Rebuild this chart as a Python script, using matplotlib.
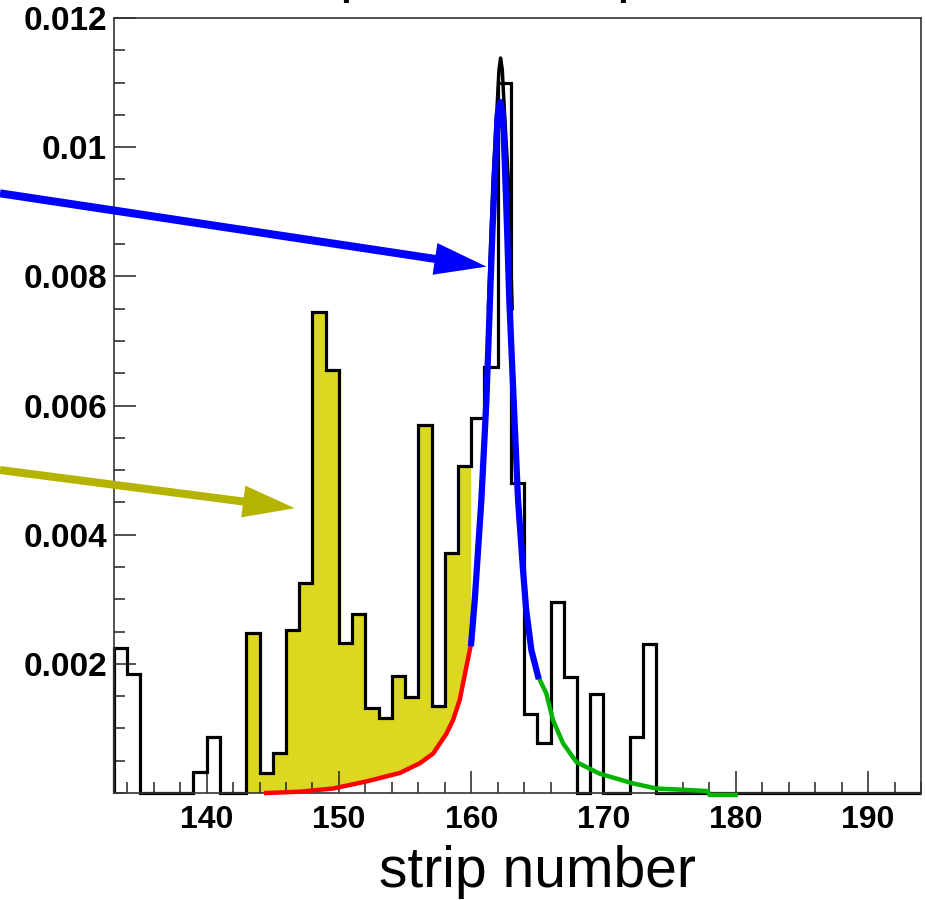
import numpy as np
import matplotlib
matplotlib.use('Agg')
import matplotlib.pyplot as plt
from matplotlib.patches import FancyArrow
from matplotlib.transforms import IdentityTransform
from matplotlib.ticker import MultipleLocator

plt.rcParams['font.family'] = ['Liberation Sans', 'DejaVu Sans']

# histogram: one value per strip, strips 133 .. 193
edges = np.arange(133, 195)
counts = [0.00224, 0.00185, 0, 0, 0, 0, 0.00032, 0.00086, 0, 0,
          0.00247, 0.00031, 0.00062, 0.00252, 0.00325, 0.00745, 0.00655, 0.00232, 0.00277, 0.00131,
          0.00116, 0.00181, 0.00148, 0.0057, 0.00134, 0.00372, 0.00507, 0.0058, 0.0066, 0.01099,
          0.0048, 0.00123, 0.00077, 0.00296, 0.0018, 0, 0.00153, 0, 0, 0.00087,
          0.0023] + [0] * 20
fill_first, fill_last = 143, 159   # strips shaded in yellow

# fit curve pieces
red_x = [144.5, 147.05, 149.57, 152.09, 154.6, 156.11, 157.12, 158.13, 158.63, 159.13, 159.64, 160.0]
red_y = [0.0, 0.00002, 0.00007, 0.00018, 0.00031, 0.00046, 0.00061, 0.00092, 0.00113, 0.00144, 0.00196, 0.00232]

blue_x = [160.0, 160.27, 160.77, 161.15, 161.42, 161.6, 161.82, 162.0, 162.2,
          162.4, 162.55, 162.72, 162.88, 163.21, 163.54, 163.9, 164.15, 164.55, 165.05]
blue_y = [0.00232, 0.00299, 0.00454, 0.00608, 0.00763, 0.00867, 0.0097, 0.0105, 0.0107,
          0.0105, 0.0097, 0.00867, 0.00763, 0.00608, 0.00454, 0.0035, 0.00285, 0.00221, 0.00181]

green_x = [165.05, 165.68, 166.18, 166.94, 167.95, 169.7, 172.2, 174.0, 176.0, 177.9, 178.0, 180.0]
green_y = [0.00181, 0.00154, 0.00113, 0.00077, 0.00048, 0.0003, 0.00015, 0.00007, 0.00005, 0.00003, -0.00003, -0.00003]

black_x = [161.3, 161.65, 161.95, 162.1, 162.22, 162.35, 162.5, 162.8, 163.1]
black_y = [0.0075, 0.0095, 0.0106, 0.0112, 0.01138, 0.0112, 0.0106, 0.0095, 0.0075]

# arrow tips (data coords)
blue_tip = (161.15, 0.00815)
olive_tip = (146.67, 0.00441)

fig = plt.figure(figsize=(9.25, 9.0), dpi=100)
ax = fig.add_axes([114 / 925, 107 / 900, 807 / 925, 775 / 900])
ax.set_xlim(133, 194)
ax.set_ylim(0, 0.012)

# yellow area between histogram and left tail of the fit
fx, fy = [fill_first], [0]
for s in range(fill_first, fill_last + 1):
    v = counts[s - 133]
    fx += [s, s + 1]
    fy += [v, v]
fx += red_x[::-1] + [fill_first]
fy += red_y[::-1] + [0]
ax.fill(fx, fy, color='#dcd820', lw=0, zorder=1)

ax.stairs(counts, edges, color='black', lw=2.3, zorder=2, clip_on=False)
ax.plot(red_x, red_y, color='#ff0000', lw=3.2, zorder=3, clip_on=False)
ax.plot(green_x, green_y, color='#00b400', lw=3.2, zorder=3, clip_on=False)
ax.plot(black_x, black_y, color='black', lw=2.5, zorder=3)
ax.plot(blue_x, blue_y, color='#0000ff', lw=4.5, zorder=4)

# axes cosmetics (ROOT look)
for side in ax.spines.values():
    side.set_linewidth(1.2)
    side.set_color('#333333')
ax.xaxis.set_major_locator(MultipleLocator(10))
ax.xaxis.set_minor_locator(MultipleLocator(2))
ax.set_yticks([0.002, 0.004, 0.006, 0.008, 0.010, 0.012])
ax.set_yticklabels(['0.002', '0.004', '0.006', '0.008', '0.01', '0.012'])
ax.yaxis.set_minor_locator(MultipleLocator(0.0005))
ax.tick_params(which='both', direction='in', top=False, right=False, width=1.1, color='#222222')
ax.tick_params(which='major', length=16)
ax.tick_params(which='minor', length=8)
ax.tick_params(axis='x', pad=9, labelsize=23)
ax.tick_params(axis='y', pad=5, labelsize=24)
for lab in ax.get_xticklabels() + ax.get_yticklabels():
    lab.set_fontweight('bold')

fig.text(537 / 925, 13 / 900, 'strip number', ha='center', va='baseline', fontsize=41)

# title cut off at top: only descenders remain
fig.text(339 / 925, 1 + 9 / 900, 'p', ha='left', va='baseline', fontsize=41)
fig.text(616 / 925, 1 + 9 / 900, 'p', ha='left', va='baseline', fontsize=41)

# arrows, drawn in pixel space from the left edge
def add_arrow(tail_px_y, tip, color):
    tx, ty = ax.transData.transform(tip)
    y0 = 900 - tail_px_y
    arr = FancyArrow(0, y0, tx, ty - y0, width=8, head_width=32, head_length=52,
                     length_includes_head=True, color=color, lw=0,
                     transform=IdentityTransform())
    fig.add_artist(arr)

add_arrow(193.3, blue_tip, '#0000ff')
add_arrow(470.0, olive_tip, '#b4b400')

fig.savefig('out.png', dpi=100)
